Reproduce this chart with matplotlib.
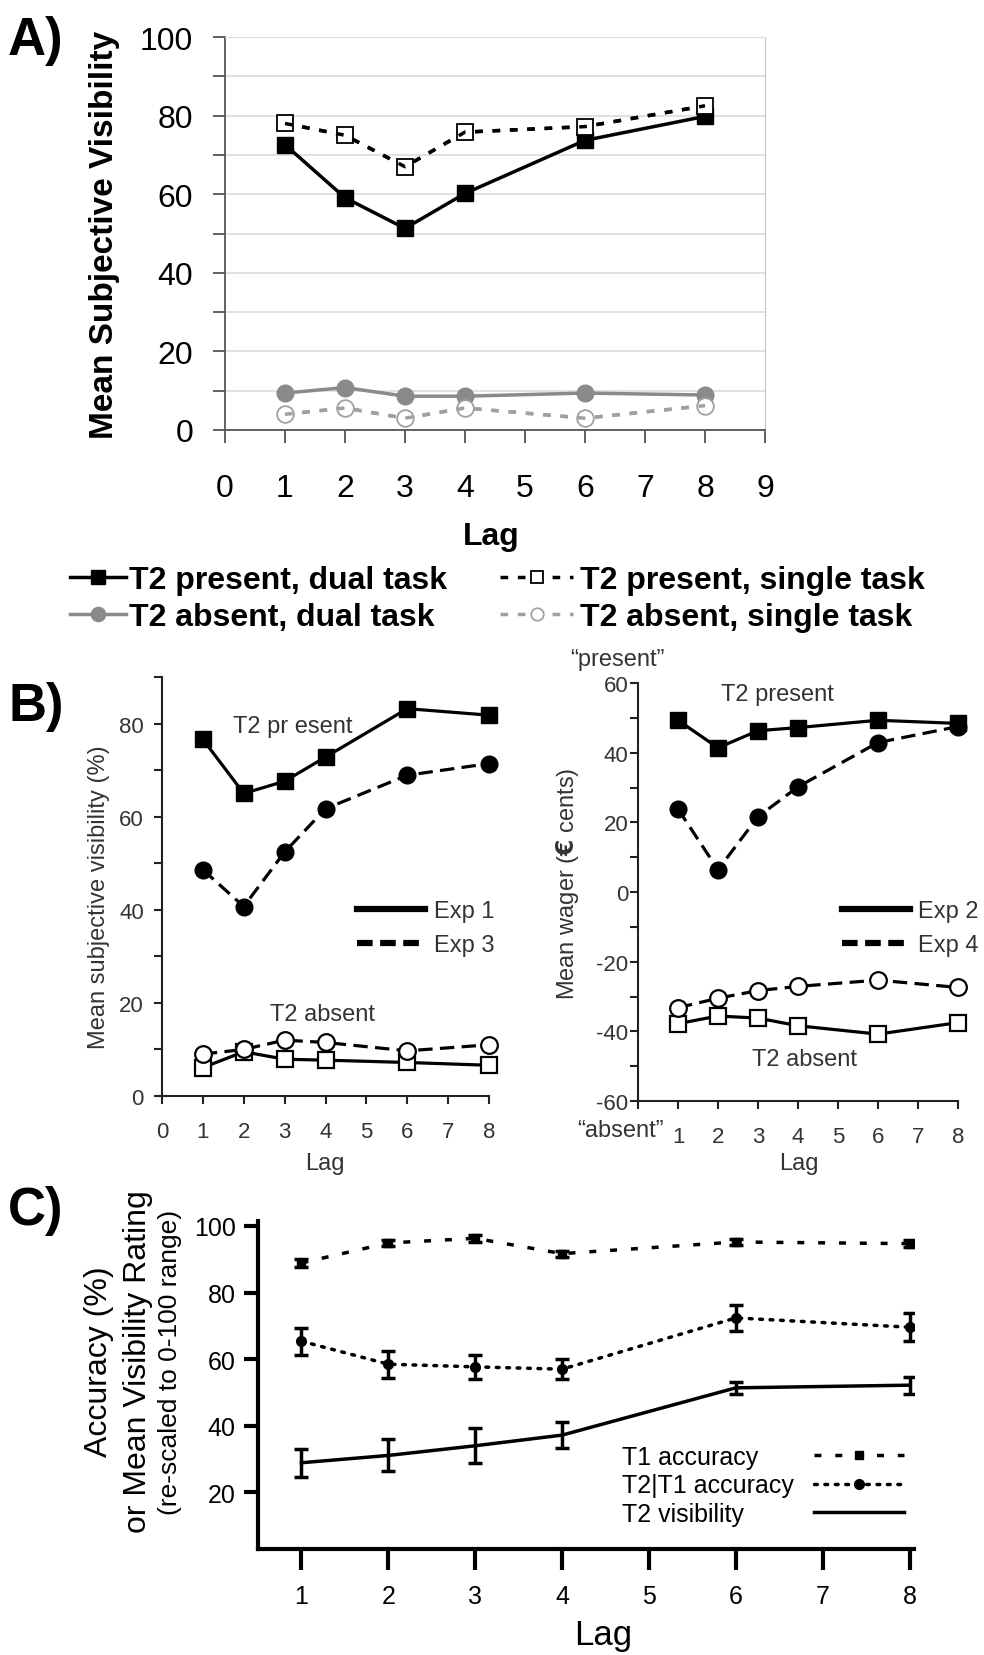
import numpy as np
import matplotlib
matplotlib.use('Agg')
import matplotlib.pyplot as plt
from matplotlib.ticker import MultipleLocator
from matplotlib.lines import Line2D

plt.rcParams['font.family'] = ['Liberation Sans', 'DejaVu Sans']
plt.rcParams['axes.unicode_minus'] = False

# ---- data -------------------------------------------------------------
lags = [1, 2, 3, 4, 6, 8]

# panel A
a_present_dual = [72.6, 59.1, 51.3, 60.2, 73.7, 79.8]
a_present_single = [78.0, 75.0, 67.0, 75.8, 77.2, 82.5]
a_absent_dual = [9.4, 10.8, 8.6, 8.6, 9.4, 8.9]
a_absent_single = [4.0, 5.6, 3.0, 5.6, 3.0, 6.2]

# panel B, left (visibility) and right (wager)
b_vis_exp1_present = [76.6, 65.0, 67.6, 72.8, 83.2, 81.8]
b_vis_exp3_present = [48.6, 40.7, 52.4, 61.7, 68.9, 71.4]
b_vis_exp1_absent = [6.1, 9.5, 7.9, 7.7, 7.2, 6.6]
b_vis_exp3_absent = [9.0, 10.0, 12.0, 11.5, 9.7, 11.0]
b_wag_exp2_present = [49.3, 41.4, 46.3, 47.2, 49.3, 48.4]
b_wag_exp4_present = [23.8, 6.4, 21.6, 30.2, 42.9, 47.5]
b_wag_exp2_absent = [-37.8, -35.6, -36.2, -38.4, -40.8, -37.5]
b_wag_exp4_absent = [-33.2, -30.5, -28.3, -27.1, -25.3, -27.4]

# panel C
c_t1 = [88.9, 94.9, 96.3, 91.7, 95.2, 94.7]
c_t1_err = [1.3, 1.0, 1.0, 0.9, 1.0, 1.0]
c_t2t1 = [65.4, 58.5, 57.7, 57.0, 72.4, 69.6]
c_t2t1_err = [4.0, 4.0, 3.6, 3.0, 3.9, 4.2]
c_vis = [28.9, 31.1, 34.0, 37.2, 51.4, 52.2]
c_vis_err = [4.2, 4.8, 5.2, 4.0, 1.9, 2.6]
c_labels = ['T1 accuracy', 'T2|T1 accuracy', 'T2 visibility']

W, H = 984, 1656


def fx(x):
    return x / W


def fy(y):
    return 1 - y / H


def box(l, t, r, b):
    return [fx(l), fy(b), fx(r) - fx(l), fy(t) - fy(b)]


fig = plt.figure(figsize=(W / 100, H / 100), dpi=100)

# ---- panel A ----------------------------------------------------------
GRAY = '#8a8a8a'
LGRAY = '#a0a0a0'
DOT_A = (0, (2.2, 2.8))
axA = fig.add_axes(box(225, 38, 765, 431))
axA.plot(lags, a_present_dual, '-s', color='black', lw=2.5, ms=12,
         label='T2 present, dual task', zorder=3, clip_on=False)
axA.plot(lags, a_absent_dual, '-o', color=GRAY, lw=2.5, ms=12,
         label='T2 absent, dual task', zorder=3, clip_on=False)
axA.plot(lags, a_present_single, marker='s', ls=DOT_A,
         color='black', mfc='white', mec='black', mew=1.3,
         lw=2.5, ms=12, label='T2 present, single task',
         zorder=3, clip_on=False)
axA.plot(lags, a_absent_single, marker='o', ls=DOT_A,
         color=LGRAY, mfc='white', mec=LGRAY, mew=1.3,
         lw=2.5, ms=12, label='T2 absent, single task',
         zorder=3, clip_on=False)
# dotted lines run over the open markers, as in the original
axA.plot(lags, a_present_single, ls=DOT_A, color='black', lw=2.5, zorder=4)
axA.plot(lags, a_absent_single, ls=DOT_A, color=LGRAY, lw=2.5, zorder=4)

axA.set_xlim(0, 9)
axA.set_ylim(0, 100)
axA.set_xticks(range(10))
axA.yaxis.set_major_locator(MultipleLocator(20))
axA.yaxis.set_minor_locator(MultipleLocator(10))
axA.grid(axis='y', which='both', color='#dcdcdc', lw=1.2)
axA.set_axisbelow(True)
for s in ['left', 'bottom']:
    axA.spines[s].set_color('#555555')
    axA.spines[s].set_linewidth(1.3)
axA.spines['right'].set_color('#c8c8c8')
axA.spines['top'].set_color('#dcdcdc')
axA.tick_params(which='both', direction='out', length=9, width=1.3, color='#555555')
axA.tick_params(axis='y', which='both', labelsize=23, pad=14)
axA.tick_params(axis='x', labelsize=23, pad=22)
axA.set_ylabel('Mean Subjective Visibility', fontsize=24, fontweight='bold')
axA.yaxis.set_label_coords(fx(120), fy(235), transform=fig.transFigure)
axA.set_xlabel('Lag', fontsize=23, fontweight='bold')
axA.xaxis.set_label_coords(fx(491), fy(522), transform=fig.transFigure)

h, l = axA.get_legend_handles_labels()
leg1 = axA.legend([h[0], h[1]], [l[0], l[1]], loc='upper left',
                  bbox_to_anchor=(fx(70), fy(566)), bbox_transform=fig.transFigure,
                  frameon=False, prop={'size': 23, 'weight': 'bold'},
                  handlelength=1.75, handletextpad=0.1, labelspacing=0.22,
                  borderpad=0, borderaxespad=0, markerscale=0.85, numpoints=1)
axA.add_artist(leg1)
axA.legend([h[2], h[3]], [l[2], l[3]], loc='upper left',
           bbox_to_anchor=(fx(500), fy(566)), bbox_transform=fig.transFigure,
           frameon=False, prop={'size': 23, 'weight': 'bold'},
           handlelength=2.3, handletextpad=0.2, labelspacing=0.22,
           borderpad=0, borderaxespad=0, markerscale=0.75, numpoints=1)

fig.text(fx(8), fy(16), 'A)', fontsize=38, fontweight='bold', va='top', ha='left')

# ---- panel B ----------------------------------------------------------
TXT = '#333333'
DASH = (0, (4.5, 2.3))


def style_b(ax):
    for s in ['top', 'right']:
        ax.spines[s].set_visible(False)
    for s in ['left', 'bottom']:
        ax.spines[s].set_color('#222222')
        ax.spines[s].set_linewidth(1.5)
    ax.tick_params(which='both', direction='out', length=6, width=1.5,
                   color='#222222', labelsize=16, labelcolor=TXT)
    ax.tick_params(axis='x', pad=12)


axBL = fig.add_axes(box(162, 678, 489, 1097))
axBL.plot(lags, b_vis_exp1_present, '-s', color='black', lw=2.3, ms=11.5, clip_on=False, zorder=3)
axBL.plot(lags, b_vis_exp3_present, marker='o', ls=DASH, color='black', lw=2.3, ms=12,
          clip_on=False, zorder=3)
axBL.plot(lags, b_vis_exp1_absent, '-s', color='black', mfc='white', mew=1.6, lw=2.3,
          ms=11.5, clip_on=False, zorder=3)
axBL.plot(lags, b_vis_exp3_absent, marker='o', ls=DASH, color='black', mfc='white',
          mew=1.6, lw=2.3, ms=12, clip_on=False, zorder=3)
axBL.set_xlim(0, 8)
axBL.set_ylim(0, 90)
axBL.set_xticks(range(9))
axBL.yaxis.set_major_locator(MultipleLocator(20))
axBL.yaxis.set_minor_locator(MultipleLocator(10))
style_b(axBL)
axBL.tick_params(axis='y', pad=7)
axBL.set_ylabel('Mean subjective visibility (%)', fontsize=17, color=TXT)
axBL.yaxis.set_label_coords(fx(110), fy(897), transform=fig.transFigure)
axBL.set_xlabel('Lag', fontsize=17, color=TXT)
axBL.xaxis.set_label_coords(fx(325), fy(1153), transform=fig.transFigure)
fig.text(fx(293), fy(727), 'T2 pr esent', fontsize=17, color=TXT, ha='center', va='center')
fig.text(fx(322), fy(1015), 'T2 absent', fontsize=17, color=TXT, ha='center', va='center')
lb1, = axBL.plot([], [], '-', color='black', lw=4.5)
lb3, = axBL.plot([], [], ls=(0, (2.5, 1.2)), color='black', lw=4.5)
axBL.legend([lb1, lb3], ['Exp 1', 'Exp 3'], loc='center left',
            bbox_to_anchor=(fx(357), fy(929)), bbox_transform=fig.transFigure,
            frameon=False, prop={'size': 17}, labelcolor=TXT,
            handlelength=2.9, handletextpad=0.35, labelspacing=0.5,
            borderpad=0, borderaxespad=0)

axBR = fig.add_axes(box(638, 684, 958, 1102))
axBR.plot(lags, b_wag_exp2_present, '-s', color='black', lw=2.3, ms=11.5, clip_on=False, zorder=3)
axBR.plot(lags, b_wag_exp4_present, marker='o', ls=DASH, color='black', lw=2.3, ms=12,
          clip_on=False, zorder=3)
axBR.plot(lags, b_wag_exp2_absent, '-s', color='black', mfc='white', mew=1.6, lw=2.3,
          ms=11.5, clip_on=False, zorder=3)
axBR.plot(lags, b_wag_exp4_absent, marker='o', ls=DASH, color='black', mfc='white',
          mew=1.6, lw=2.3, ms=12, clip_on=False, zorder=3)
axBR.set_xlim(0, 8)
axBR.set_ylim(-60, 60)
axBR.set_xticks(range(9))
axBR.set_xticklabels([''] + [str(i) for i in range(1, 9)])
axBR.yaxis.set_major_locator(MultipleLocator(20))
axBR.yaxis.set_minor_locator(MultipleLocator(10))
style_b(axBR)
axBR.tick_params(axis='y', pad=1)
axBR.set_ylabel('Mean wager ($\\mathbf{€}$ cents)', fontsize=17, color=TXT)
axBR.yaxis.set_label_coords(fx(581), fy(884), transform=fig.transFigure)
axBR.set_xlabel('Lag', fontsize=17, color=TXT)
axBR.xaxis.set_label_coords(fx(799), fy(1153), transform=fig.transFigure)
fig.text(fx(777), fy(695), 'T2 present', fontsize=17, color=TXT, ha='center', va='center')
fig.text(fx(805), fy(1060), 'T2 absent', fontsize=17, color=TXT, ha='center', va='center')
fig.text(fx(617), fy(660), '\u201cpresent\u201d', fontsize=17, color=TXT, ha='center', va='center')
fig.text(fx(620), fy(1131), '\u201cabsent\u201d', fontsize=17, color=TXT, ha='center', va='center')
lb2, = axBR.plot([], [], '-', color='black', lw=4.5)
lb4, = axBR.plot([], [], ls=(0, (2.5, 1.2)), color='black', lw=4.5)
axBR.legend([lb2, lb4], ['Exp 2', 'Exp 4'], loc='center left',
            bbox_to_anchor=(fx(842), fy(929)), bbox_transform=fig.transFigure,
            frameon=False, prop={'size': 17}, labelcolor=TXT,
            handlelength=2.9, handletextpad=0.3, labelspacing=0.5,
            borderpad=0, borderaxespad=0)

fig.text(fx(8), fy(682), 'B)', fontsize=38, fontweight='bold', va='top', ha='left')

# ---- panel C ----------------------------------------------------------
axC = fig.add_axes(box(258, 1222, 914, 1550))
ek = dict(fmt='none', ecolor='black', elinewidth=2.5, capsize=5, capthick=2.5, zorder=3)
axC.errorbar(lags, c_t1, yerr=c_t1_err, **ek)
axC.errorbar(lags, c_t2t1, yerr=c_t2t1_err, **ek)
axC.errorbar(lags, c_vis, yerr=c_vis_err, **ek)
lt1, = axC.plot(lags, c_t1, marker='s', ls=(0, (2.0, 4.0)), color='black', lw=2.5, ms=6,
                zorder=4)
lt2, = axC.plot(lags, c_t2t1, marker='o', ls=(0, (0.8, 2.2)), color='black', lw=2.5, ms=7,
                dash_capstyle='round', zorder=4)
lv, = axC.plot(lags, c_vis, '-', color='black', lw=2.5, zorder=4)
axC.set_xlim(0.5, 8.05)
axC.set_ylim(3, 101.5)
axC.set_xticks(range(1, 9))
axC.set_yticks([20, 40, 60, 80, 100])
for s in ['top', 'right']:
    axC.spines[s].set_visible(False)
for s in ['left', 'bottom']:
    axC.spines[s].set_linewidth(3)
axC.tick_params(direction='out', width=3, labelsize=18)
axC.tick_params(axis='y', length=10, pad=6)
axC.tick_params(axis='x', length=15, pad=10)
axC.set_xlabel('Lag', fontsize=25)
axC.xaxis.set_label_coords(fx(603), fy(1619), transform=fig.transFigure)
fig.text(fx(99), fy(1362), 'Accuracy (%)', fontsize=23, rotation=90, ha='center', va='center')
fig.text(fx(138), fy(1362), 'or Mean Visibility Rating', fontsize=23, rotation=90,
         ha='center', va='center')
fig.text(fx(170), fy(1362), '(re-scaled to 0-100 range)', fontsize=19, rotation=90,
         ha='center', va='center')
# legend: left-aligned labels, keys in their own column
leg_keys = axC.legend([lt1, lt2, lv], ['', '', ''],
                      loc='upper left', bbox_to_anchor=(fx(814), fy(1446)),
                      bbox_transform=fig.transFigure, frameon=False, prop={'size': 18},
                      numpoints=1, handlelength=3.6, handletextpad=0, labelspacing=0.18,
                      borderpad=0, borderaxespad=0)
axC.add_artist(leg_keys)
blank = [Line2D([], [], alpha=0) for _ in c_labels]
axC.legend(blank, c_labels,
           loc='upper left', bbox_to_anchor=(fx(622), fy(1446)),
           bbox_transform=fig.transFigure, frameon=False, prop={'size': 18},
           handlelength=0, handletextpad=0, labelspacing=0.18,
           borderpad=0, borderaxespad=0)

fig.text(fx(8), fy(1186), 'C)', fontsize=38, fontweight='bold', va='top', ha='left')

fig.savefig('out.png', dpi=100)
